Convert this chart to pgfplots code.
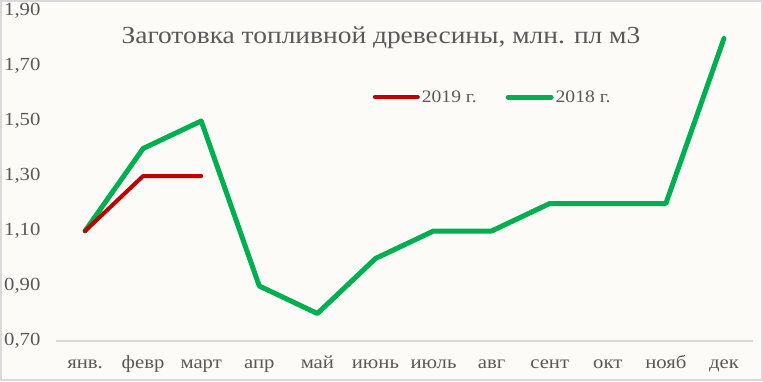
\documentclass[border=0pt]{standalone}
\usepackage{pgfplots}
\pgfplotsset{compat=1.18}
\usepackage{fontspec}
\setmainfont[FakeStretch=1.12]{Liberation Serif}
\definecolor{bg}{HTML}{FCFBF7}
\definecolor{frame}{HTML}{D9D9D9}
\definecolor{txt}{HTML}{595959}
\definecolor{red19}{HTML}{C00000}
\definecolor{green18}{HTML}{00B050}
\begin{document}
\begin{tikzpicture}[x=1pt,y=1pt]
\fill[bg, use as bounding box] (0,0) rectangle (763,381);
\draw[frame, line width=2pt] (1,1) rectangle (762,380);
\begin{axis}[
  at={(56pt,40pt)}, anchor=south west,
  scale only axis, width=697pt, height=330pt,
  xmin=-0.5, xmax=11.5, ymin=0.7, ymax=1.9,
  xtick={0,...,11},
  xticklabels={янв., февр, март, апр, май, июнь, июль, авг, сент, окт, нояб, дек},
  ytick={0.7,0.9,1.1,1.3,1.5,1.7,1.9},
  major tick length=0pt,
  axis line style={draw=none},
  axis x line*=bottom, axis y line*=left,
  ticklabel style={font=\fontsize{18.5}{21}\selectfont, text=txt},
  yticklabel style={xshift=-12pt},
  xticklabel style={text height=12pt, text depth=4pt, yshift=-12pt},
  /pgf/number format/.cd, fixed, fixed zerofill, precision=2, use comma, assume math mode=true,
  /pgfplots/.cd,
  clip=false,
  reverse legend,
  legend columns=2,
  legend style={at={(0.45,0.739)}, anchor=west, draw=none, fill=none,
    font=\fontsize{17.5}{20}\selectfont, text=txt,
    /tikz/every even column/.append style={column sep=27pt}},
  legend image code/.code={\draw[#1, line cap=round] (0pt,0pt) -- (43pt,0pt);},
]
\draw[frame, line width=1.5pt] (axis cs:-0.5,0.7) -- (axis cs:11.5,0.7);
\addplot[green18, line width=5pt, line join=round, line cap=round] coordinates {
 (0,1.1) (1,1.4) (2,1.5) (3,0.9) (4,0.8) (5,1.0) (6,1.1) (7,1.1) (8,1.2) (9,1.2) (10,1.2) (11,1.8)};
\addlegendentry{2018 г.}
\addplot[red19, line width=4pt, line join=round, line cap=round] coordinates {
 (0,1.1) (1,1.3) (2,1.3)};
\addlegendentry{2019 г.}
\end{axis}
\node[text=txt, font=\fontsize{24.5}{28}\selectfont] at (381,343) {Заготовка топливной древесины, млн. пл м3};
\end{tikzpicture}
\end{document}
